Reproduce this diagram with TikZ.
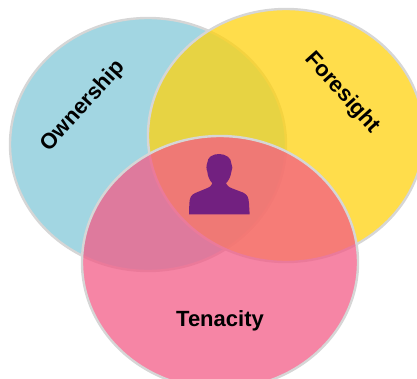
\documentclass[tikz,border=0pt]{standalone}
\usepackage{fontspec}
\setmainfont{Liberation Sans}
\usetikzlibrary{shapes.geometric}
\definecolor{vblue}{HTML}{A2D6E2}
\definecolor{vyellow}{HTML}{FFD20F}
\definecolor{vpink}{HTML}{F35C87}
\definecolor{vedge}{HTML}{D6D6D6}
\definecolor{vperson}{HTML}{722080}
\tikzset{
  venn/.style={ellipse,inner sep=0pt,minimum width=276pt,minimum height=253pt,draw=vedge,line width=2.4pt},
  lbl/.style={font=\fontsize{22}{26}\selectfont\bfseries,text=black,inner sep=0pt}
}
\begin{document}
\begin{tikzpicture}[x=1pt,y=-1pt]
\useasboundingbox (0,0) rectangle (417,379);
\clip (0,0) rectangle (417,379);
\node[venn,fill=vblue] (own) at (148,144.5) {};
\node[venn,fill=vyellow,fill opacity=.75] (fore) at (286,135.5) {};
\node[venn,fill=vpink,fill opacity=.75] (ten) at (220,262.5) {};
\node[lbl,rotate=48] (ownl) at (83,106) {Ownership};
\node[lbl,rotate=-48] (forel) at (342,93) {Foresight};
\node[lbl] (tenl) at (220,321) {Tenacity};
\begin{scope}[shift={(150,120)},x=.3333pt,y=-.3333pt]
\fill[vperson] (117,283) -- (118,250) .. controls (119,232) and (124,224) .. (136,219)
  -- (170,205) .. controls (180,201) and (186,196) .. (187,190)
  .. controls (178,180) and (173,168) .. (172,155)
  .. controls (168,148) and (169,135) .. (172,128)
  .. controls (172,112) and (188,102) .. (207,102)
  .. controls (228,102) and (244,114) .. (244,130)
  .. controls (248,138) and (248,148) .. (244,156)
  .. controls (242,170) and (236,182) .. (228,190)
  .. controls (230,196) and (236,201) .. (246,205)
  -- (280,218) .. controls (292,224) and (296,232) .. (297,250)
  -- (299,283) -- cycle;
\end{scope}
\end{tikzpicture}
\end{document}
